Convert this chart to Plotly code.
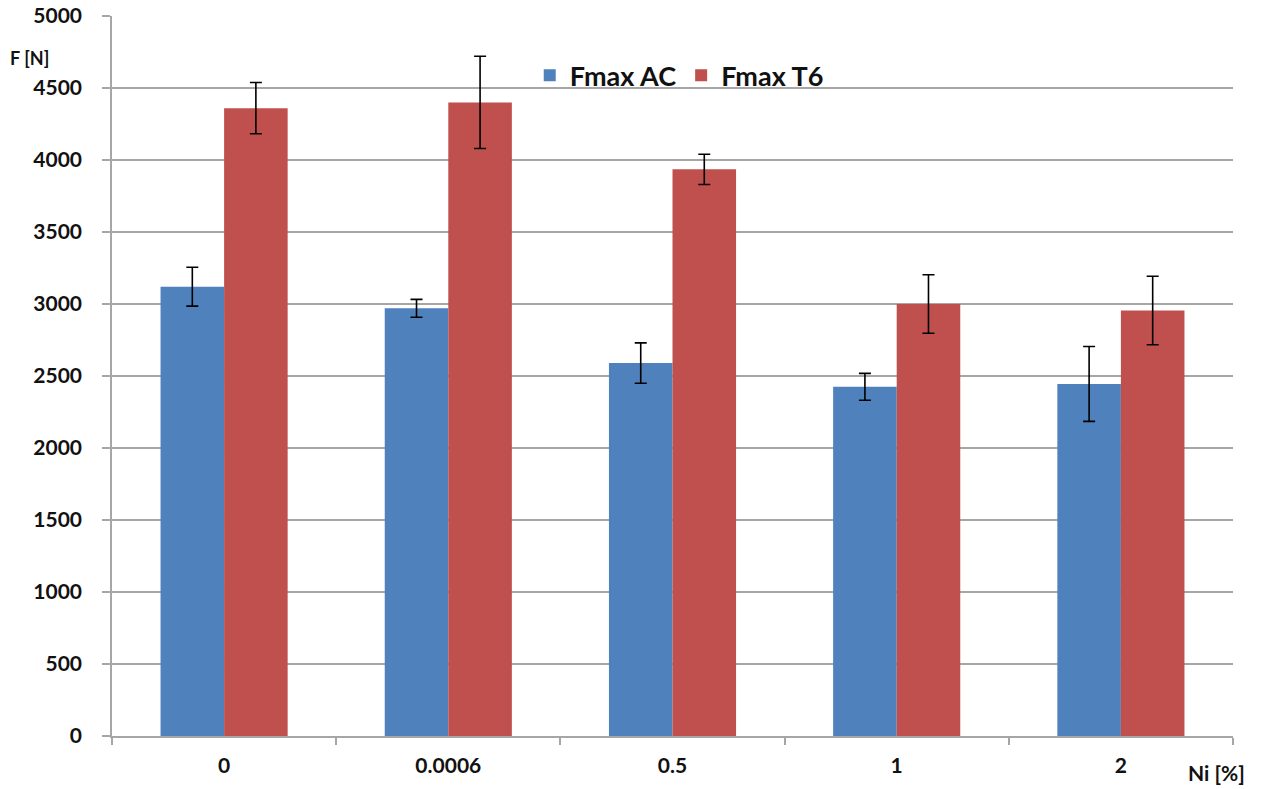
import plotly.graph_objects as go

# Ni content categories and maximum force values (N)
ni_levels = ["0", "0.0006", "0.5", "1", "2"]
fmax_ac = [3120, 2970, 2590, 2425, 2445]
fmax_ac_err = [135, 62, 140, 93, 260]
fmax_t6 = [4360, 4400, 3935, 3000, 2955]
fmax_t6_err = [178, 320, 105, 203, 238]

FONT = "Lato"
TXT = "#111111"
GRID = "#a6a6a6"

fig = go.Figure()
fig.add_trace(go.Bar(
    name="Fmax AC", x=ni_levels, y=fmax_ac,
    marker=dict(color="#4f81bd", line=dict(width=0)),
    error_y=dict(type="data", array=fmax_ac_err, color="black", thickness=1.6, width=6),
))
fig.add_trace(go.Bar(
    name="Fmax T6", x=ni_levels, y=fmax_t6,
    marker=dict(color="#c0504d", line=dict(width=0)),
    error_y=dict(type="data", array=fmax_t6_err, color="black", thickness=1.6, width=6),
))

fig.update_layout(
    width=1261, height=789,
    margin=dict(l=112, r=28, t=16, b=53, autoexpand=False),
    paper_bgcolor="white", plot_bgcolor="white",
    barmode="group", bargap=0.433, bargroupgap=0,
    font=dict(family=FONT, color=TXT),
    legend=dict(
        orientation="h", x=0.506, y=0.917, xanchor="center", yanchor="middle",
        font=dict(size=27, family=FONT, weight="bold", color=TXT),
        bgcolor="rgba(0,0,0,0)", itemwidth=30, tracegroupgap=0,
    ),
    xaxis=dict(
        type="category", showgrid=False, automargin=False,
        showline=True, linecolor=GRID, linewidth=1.5,
        ticks="outside", tickson="boundaries", ticklen=7, tickcolor=GRID, tickwidth=1.5,
        tickfont=dict(size=21, family=FONT, weight="bold", color=TXT),
        ticklabelstandoff=10,
    ),
    yaxis=dict(
        range=[0, 5000], dtick=500, tick0=0, automargin=False,
        showgrid=True, gridcolor=GRID, gridwidth=1.5,
        zeroline=False,
        showline=True, linecolor=GRID, linewidth=1.5,
        ticks="outside", ticklen=8, tickcolor=GRID, tickwidth=1.5,
        tickfont=dict(size=21, family=FONT, weight="bold", color=TXT),
        ticklabelstandoff=16,
    ),
    annotations=[
        dict(text="F [N]", xref="paper", yref="paper", x=-0.0928, y=0.9417,
             xanchor="left", yanchor="middle", showarrow=False,
             font=dict(size=18, family=FONT, weight="bold", color=TXT)),
        dict(text="Ni [%]", xref="paper", yref="paper", x=0.985, y=-0.05,
             xanchor="center", yanchor="middle", showarrow=False,
             font=dict(size=21, family=FONT, weight="bold", color=TXT)),
    ],
)

fig.write_html("out.html")
